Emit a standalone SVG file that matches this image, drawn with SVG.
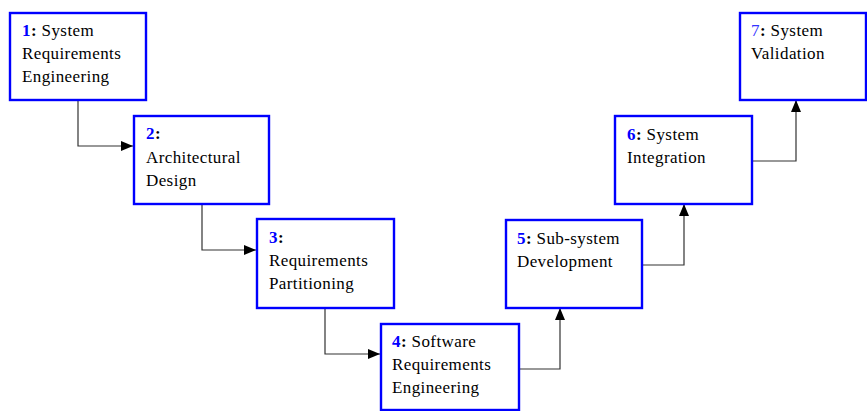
<svg xmlns="http://www.w3.org/2000/svg" width="867" height="411" viewBox="0 0 867 411">
  <defs>
    <marker id="arrow" viewBox="0 0 12 10" refX="12" refY="5" markerWidth="12" markerHeight="10" markerUnits="userSpaceOnUse" orient="auto">
      <path d="M0,0 L12,5 L0,10 z" fill="#000"/>
    </marker>
  </defs>
  <style>
    .box { fill: #fff; stroke: #0000ff; stroke-width: 2.4; }
    .txt { font-family: "Liberation Serif", "Times New Roman", serif; font-size: 17px; letter-spacing: 0.4px; fill: #000; }
    .num { fill: #0000ff; font-weight: bold; }
    .num-light { fill: #3333ff; }
    .colon { font-weight: bold; }
    .link { fill: none; stroke: #333; stroke-width: 1.2; marker-end: url(#arrow); }
  </style>
  <rect width="867" height="411" fill="#fff"/>

  <g id="connectors">
    <path class="link" d="M78,100 V146 H133"/>
    <path class="link" d="M202,204 V250 H256"/>
    <path class="link" d="M325,308 V354 H380"/>
    <path class="link" d="M519,369 H560 V308"/>
    <path class="link" d="M642,265 H684 V204"/>
    <path class="link" d="M752,161 H796 V100"/>
  </g>

  <g id="node1">
    <rect class="box" x="10" y="13" width="136" height="87"/>
    <text class="txt" x="22" y="36"><tspan class="num">1</tspan><tspan class="colon">:</tspan> System</text>
    <text class="txt" x="22" y="59">Requirements</text>
    <text class="txt" x="22" y="82">Engineering</text>
  </g>

  <g id="node2">
    <rect class="box" x="134" y="116" width="135" height="88"/>
    <text class="txt" x="146" y="139"><tspan class="num">2</tspan><tspan class="colon">:</tspan></text>
    <text class="txt" x="146" y="163">Architectural</text>
    <text class="txt" x="146" y="186">Design</text>
  </g>

  <g id="node3">
    <rect class="box" x="257" y="219" width="137" height="89"/>
    <text class="txt" x="269" y="243"><tspan class="num">3</tspan><tspan class="colon">:</tspan></text>
    <text class="txt" x="269" y="266">Requirements</text>
    <text class="txt" x="269" y="289">Partitioning</text>
  </g>

  <g id="node4">
    <rect class="box" x="381" y="324" width="138" height="86"/>
    <text class="txt" x="392" y="347"><tspan class="num">4</tspan><tspan class="colon">:</tspan> Software</text>
    <text class="txt" x="392" y="370">Requirements</text>
    <text class="txt" x="392" y="393">Engineering</text>
  </g>

  <g id="node5">
    <rect class="box" x="506" y="220" width="136" height="88"/>
    <text class="txt" x="517" y="244"><tspan class="num">5</tspan><tspan class="colon">:</tspan> Sub-system</text>
    <text class="txt" x="517" y="267">Development</text>
  </g>

  <g id="node6">
    <rect class="box" x="615" y="116" width="137" height="88"/>
    <text class="txt" x="627" y="140"><tspan class="num">6</tspan><tspan class="colon">:</tspan> System</text>
    <text class="txt" x="627" y="163">Integration</text>
  </g>

  <g id="node7">
    <rect class="box" x="740" y="13" width="126" height="87"/>
    <text class="txt" x="751" y="36"><tspan class="num-light">7</tspan><tspan class="colon">:</tspan> System</text>
    <text class="txt" x="751" y="59">Validation</text>
  </g>
</svg>
